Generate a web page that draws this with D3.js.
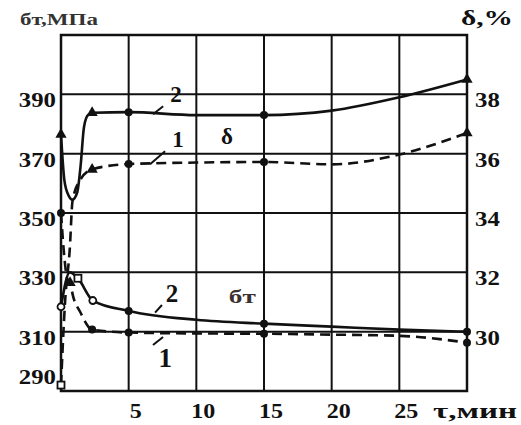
<!DOCTYPE html>
<html>
<head>
<meta charset="utf-8">
<script src="https://cdn.jsdelivr.net/npm/d3@7"></script>
<style>
	body { margin: 0; background: #fff; }
	text { font-family: "Liberation Serif", "Times New Roman", serif; font-weight: bold; fill: #111; }
</style>
</head>
<body>
<div id="chart"></div>
<script>
// tick values
const timeTicks = [5, 10, 15, 20, 25];
const stressTicks = [390, 370, 350, 330, 310, 290];
const elongTicks = [38, 36, 34, 32, 30];

// elongation δ, % (right axis) : [time, value]
const delta2 = [[0, 36.65], [0.25, 35.1], [0.55, 34.6], [0.85, 34.45], [1.2, 34.7], [1.45, 35.6],
	[1.7, 36.9], [2.0, 37.3], [2.4, 37.38], [5, 37.4], [10, 37.3], [15, 37.3], [20, 37.45], [25, 37.9], [30, 38.5]];
const delta1 = [[0, 28.2], [0.3, 31.0], [0.65, 32.8], [0.85, 34.4], [1.4, 35.1], [2.3, 35.47],
	[5, 35.65], [10, 35.7], [15, 35.72], [20, 35.64], [25, 35.97], [30, 36.7]];

// yield stress бт, MPa (left axis)
const sigma2 = [[0, 318.4], [0.65, 330], [1.25, 328], [2.35, 320.5], [5, 317], [10, 314],
	[15, 312.7], [20, 311.7], [25, 310.7], [30, 310]];
const sigma1 = [[0, 350], [0.25, 335], [0.45, 328], [0.67, 326.5], [0.9, 321.8], [1.4, 316.8],
	[2.3, 310.7], [5, 309.7], [10, 309.4], [15, 309.3], [20, 309], [25, 308.6], [30, 306.3]];

// marked points : [time, value, shape]
const delta2Marks = [[0, 36.65, "tri"], [2.3, 37.38, "tri"], [5, 37.4, "dot"], [15, 37.3, "dot"], [30, 38.5, "tri"]];
const delta1Marks = [[0, 28.2, "sq"], [2.3, 35.47, "tri"], [5, 35.65, "dot"], [15, 35.72, "dot"], [30, 36.7, "tri"]];
const sigma2Marks = [[0, 318.4, "oc"], [1.25, 328, "sq"], [2.35, 320.5, "oc"], [5, 317, "dot"], [15, 312.7, "dot"], [30, 310, "dot"]];
const sigma1Marks = [[0, 350, "dot"], [0.67, 326.5, "tri"], [2.3, 310.7, "dot"], [5, 309.7, "dot"], [15, 309.3, "dot"], [30, 306.3, "dot"]];

const width = 521;
const height = 425;
const plotLeft = 61, plotRight = 467, plotTop = 35, plotBottom = 391;

const svg = d3.select("#chart").append("svg")
	.attr("width", width)
	.attr("height", height);

const x = d3.scaleLinear().domain([0, 30]).range([plotLeft, plotRight]);
const yS = d3.scaleLinear().domain([290, 410]).range([plotBottom, plotTop]);
const yD = d3.scaleLinear().domain([28, 40]).range([plotBottom, plotTop]);

// grid
const grid = svg.append("g").attr("stroke", "#111").attr("stroke-width", 2);
grid.selectAll(".v").data(timeTicks).enter().append("line")
	.attr("x1", (d) => x(d)).attr("x2", (d) => x(d))
	.attr("y1", plotTop).attr("y2", plotBottom);
grid.selectAll(".h").data(stressTicks.filter((d) => d > 290)).enter().append("line")
	.attr("x1", plotLeft).attr("x2", plotRight)
	.attr("y1", (d) => yS(d)).attr("y2", (d) => yS(d));

svg.append("rect")
	.attr("x", plotLeft).attr("y", plotTop)
	.attr("width", plotRight - plotLeft).attr("height", plotBottom - plotTop)
	.attr("fill", "none").attr("stroke", "#111").attr("stroke-width", 2.5);

// tick labels
svg.append("g").selectAll("text").data(stressTicks).enter().append("text")
	.attr("x", 56)
	.attr("y", (d) => (d === 290 ? yS(d) - 7 : yS(d) + 13))
	.attr("text-anchor", "end")
	.attr("font-size", 21)
	.attr("textLength", (d) => String(d).length * 12.4)
	.attr("lengthAdjust", "spacingAndGlyphs")
	.text((d) => d);

svg.append("g").selectAll("text").data(elongTicks).enter().append("text")
	.attr("x", 475)
	.attr("y", (d) => yD(d) + 13)
	.attr("font-size", 21)
	.attr("textLength", (d) => String(d).length * 12.4)
	.attr("lengthAdjust", "spacingAndGlyphs")
	.text((d) => d);

svg.append("g").selectAll("text").data(timeTicks).enter().append("text")
	.attr("x", (d) => x(d) + 7)
	.attr("y", 418)
	.attr("text-anchor", "middle")
	.attr("font-size", 20)
	.attr("textLength", (d) => String(d).length * 12.0)
	.attr("lengthAdjust", "spacingAndGlyphs")
	.text((d) => d);

// axis titles
svg.append("text").attr("x", 20).attr("y", 25).attr("font-size", 16)
	.attr("textLength", 78).attr("lengthAdjust", "spacingAndGlyphs")
	.style("fill", "#333").text("бт,МПа");
svg.append("text").attr("x", 461).attr("y", 25).attr("font-size", 21)
	.attr("textLength", 52).attr("lengthAdjust", "spacingAndGlyphs")
	.text("δ,%");
svg.append("text").attr("x", 433).attr("y", 418).attr("font-size", 20)
	.attr("textLength", 84).attr("lengthAdjust", "spacingAndGlyphs")
	.text("τ,мин");

// curves
const series = [
	{ pts: delta2, y: yD, dash: null, marks: delta2Marks },
	{ pts: delta1, y: yD, dash: "10,6", marks: delta1Marks },
	{ pts: sigma2, y: yS, dash: null, marks: sigma2Marks },
	{ pts: sigma1, y: yS, dash: "10,6", marks: sigma1Marks },
];

series.forEach((s) => {
	const line = d3.line()
		.x((d) => x(d[0]))
		.y((d) => s.y(d[1]))
		.curve(d3.curveMonotoneX);
	svg.append("path")
		.datum(s.pts)
		.attr("d", line)
		.attr("fill", "none")
		.attr("stroke", "#111")
		.attr("stroke-width", 2.6)
		.attr("stroke-dasharray", s.dash);

	const m = svg.append("g").selectAll("g").data(s.marks).enter().append("g")
		.attr("transform", (d) => `translate(${x(d[0])},${s.y(d[1])})`);
	m.filter((d) => d[2] === "dot").append("circle").attr("r", 4).attr("fill", "#111");
	m.filter((d) => d[2] === "oc").append("circle").attr("r", 3.5)
		.attr("fill", "#fff").attr("stroke", "#111").attr("stroke-width", 1.8);
	m.filter((d) => d[2] === "sq").append("rect")
		.attr("x", -3.5).attr("y", -3.5).attr("width", 7).attr("height", 7)
		.attr("fill", "#fff").attr("stroke", "#111").attr("stroke-width", 1.8);
	m.filter((d) => d[2] === "tri").append("path")
		.attr("d", d3.symbol(d3.symbolTriangle, 55))
		.attr("fill", "#111");
});

// curve labels with short leader strokes
const notes = [
	{ t: 8.5, v: 37.73, y: yD, txt: "2", fs: 23, lead: [[6.8, 37.33], [7.55, 37.6]] },
	{ t: 8.65, v: 36.21, y: yD, txt: "1", fs: 23, lead: [[6.58, 35.64], [7.69, 36.08]] },
	{ t: 12.27, v: 36.31, y: yD, txt: "δ", fs: 23, lead: null },
	{ t: 8.2, v: 320.0, y: yS, txt: "2", fs: 25, lead: [[6.95, 316.4], [7.46, 319.0]] },
	{ t: 7.7, v: 298.1, y: yS, txt: "1", fs: 27, lead: [[6.8, 305.5], [7.54, 308.2]] },
];
notes.forEach((n) => {
	svg.append("text")
		.attr("x", x(n.t)).attr("y", n.y(n.v))
		.attr("text-anchor", "middle")
		.attr("font-size", n.fs)
		.text(n.txt);
	if (n.lead) {
		svg.append("line")
			.attr("x1", x(n.lead[0][0])).attr("y1", n.y(n.lead[0][1]))
			.attr("x2", x(n.lead[1][0])).attr("y2", n.y(n.lead[1][1]))
			.attr("stroke", "#111").attr("stroke-width", 2);
	}
});
svg.append("text")
	.attr("x", x(13.4)).attr("y", yS(319.7))
	.attr("text-anchor", "middle")
	.attr("font-size", 19)
	.attr("textLength", 27).attr("lengthAdjust", "spacingAndGlyphs")
	.style("fill", "#3a3030")
	.text("бт");
</script>
</body>
</html>
